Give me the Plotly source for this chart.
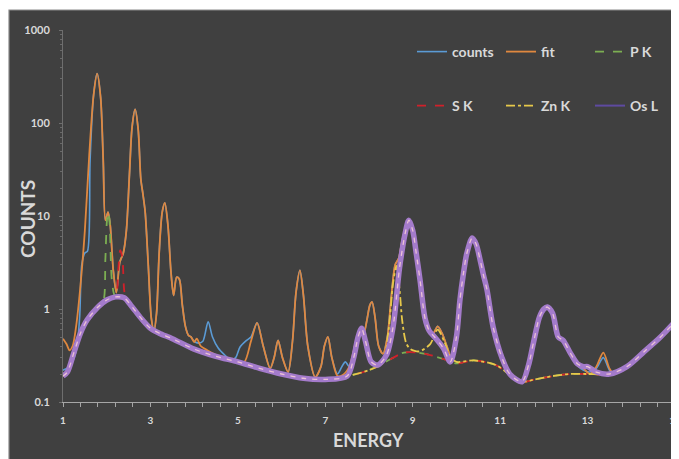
import plotly.graph_objects as go

# ---------------- data ----------------
counts_x = [1.0, 1.15, 1.3, 1.38, 1.43, 1.5, 1.56, 1.62, 1.7, 1.78, 1.86, 1.92, 1.97, 2.03, 2.08, 2.15, 2.22, 2.3, 2.38, 2.45,
            2.52, 2.58, 2.65, 2.72, 2.78, 2.83, 2.88, 2.95, 3.02, 3.08, 3.14, 3.2, 3.27, 3.33, 3.4, 3.47, 3.53, 3.6, 3.66,
            3.73, 3.8, 3.87, 3.93, 4.0, 4.1, 4.2, 4.32, 4.42, 4.55, 4.7, 4.85, 4.95, 5.05, 5.2, 5.3, 5.44, 5.58, 5.74,
            5.83, 5.92, 6.02, 6.15, 6.25, 6.33, 6.42, 6.5, 6.6, 6.77, 6.9, 6.98, 7.06, 7.15, 7.28, 7.38, 7.46, 7.55,
            7.7, 7.8, 7.88, 7.95, 8.02, 8.07, 8.14, 8.22, 8.32, 8.42, 8.5, 8.6, 8.68, 8.76, 8.84, 8.91, 9.0, 9.08, 9.17,
            9.28, 9.38, 9.47, 9.57, 9.67, 9.78, 9.88, 10.0, 10.08, 10.16, 10.24, 10.36, 10.45, 10.54, 10.62, 10.7, 10.84,
            11.04, 11.22, 11.5, 11.65, 11.76, 11.9, 12.0, 12.08, 12.2, 12.33, 12.44, 12.6, 12.76, 12.9, 13.05, 13.2,
            13.36, 13.5, 13.6, 13.9, 14.3, 14.65, 15.0]
counts_y = [0.22, 0.24, 0.35, 0.8, 3.0, 4.0, 4.2, 40, 200, 340, 190, 40, 9, 11, 8, 2.6, 1.5, 3.2, 4.0, 7,
            28, 90, 140, 85, 25, 17, 11, 3, 0.8, 0.58, 0.9, 4, 11, 13.8, 8, 2.5, 1.4, 2.2, 2.1,
            1.1, 0.65, 0.52, 0.5, 0.45, 0.43, 0.45, 0.73, 0.5, 0.38, 0.32, 0.28, 0.3, 0.39, 0.46, 0.5, 0.71, 0.4, 0.23,
            0.3, 0.46, 0.3, 0.21, 0.45, 1.5, 2.6, 1.4, 0.4, 0.185, 0.24, 0.4, 0.5, 0.3, 0.2, 0.24, 0.27, 0.24,
            0.45, 0.6, 0.55, 0.75, 1.1, 1.19, 0.8, 0.4, 0.33, 0.5, 1.2, 3.0, 3.5, 5.5, 7.5, 9.2, 7.2, 4.0, 2.0,
            0.85, 0.6, 0.55, 0.65, 0.55, 0.4, 0.3, 0.5, 1.3, 2.5, 4.1, 5.9, 5.1, 3.5, 2.3, 1.6, 0.64,
            0.3, 0.2, 0.16, 0.24, 0.43, 0.82, 1.0, 1.05, 0.9, 0.5, 0.46, 0.33, 0.25, 0.22, 0.21, 0.23,
            0.3, 0.22, 0.2, 0.24, 0.35, 0.49, 0.73]

fit_x = [1.0, 1.08, 1.15, 1.22, 1.3, 1.4, 1.5, 1.6, 1.7, 1.78, 1.86, 1.92, 1.97, 2.03, 2.08, 2.15, 2.22, 2.3, 2.38, 2.45,
         2.52, 2.58, 2.65, 2.72, 2.78, 2.83, 2.88, 2.95, 3.02, 3.08, 3.14, 3.2, 3.27, 3.33, 3.4, 3.47, 3.53, 3.6, 3.66,
         3.73, 3.8, 3.87, 3.93, 4.0, 4.06, 4.15, 4.3, 4.5, 4.8, 5.0, 5.15, 5.3, 5.44, 5.58, 5.74,
         5.83, 5.92, 6.02, 6.15, 6.25, 6.33, 6.42, 6.5, 6.6, 6.77, 6.9, 6.98, 7.06, 7.15, 7.28, 7.4, 7.55,
         7.7, 7.8, 7.88, 7.95, 8.02, 8.07, 8.14, 8.22, 8.32, 8.42, 8.5, 8.6, 8.68, 8.76, 8.84, 8.91, 9.0, 9.08, 9.17,
         9.28, 9.38, 9.47, 9.57, 9.67, 9.78, 9.88, 10.0, 10.08, 10.16, 10.24, 10.36, 10.45, 10.54, 10.62, 10.7, 10.84,
         11.04, 11.22, 11.5, 11.65, 11.76, 11.9, 12.0, 12.08, 12.2, 12.33, 12.44, 12.6, 12.76, 12.9, 13.05, 13.2,
         13.36, 13.5, 13.6, 13.9, 14.3, 14.65, 15.0]
fit_y = [0.48, 0.42, 0.36, 0.4, 0.65, 1.8, 7, 45, 200, 340, 190, 40, 9, 11, 8, 2.6, 1.5, 3.2, 4.0, 7,
         28, 90, 140, 85, 25, 17, 11, 3, 0.8, 0.58, 0.9, 4, 11, 13.8, 8, 2.5, 1.4, 2.2, 2.1,
         1.1, 0.65, 0.52, 0.5, 0.44, 0.48, 0.4, 0.36, 0.32, 0.28, 0.27, 0.27, 0.45, 0.71, 0.4, 0.23,
         0.3, 0.46, 0.3, 0.21, 0.45, 1.5, 2.6, 1.4, 0.4, 0.185, 0.24, 0.4, 0.5, 0.3, 0.19, 0.195, 0.24,
         0.45, 0.6, 0.55, 0.75, 1.1, 1.19, 0.8, 0.4, 0.33, 0.5, 1.2, 3.0, 3.5, 5.5, 7.5, 9.2, 7.2, 4.0, 2.0,
         0.85, 0.6, 0.55, 0.65, 0.55, 0.4, 0.3, 0.5, 1.3, 2.5, 4.1, 5.9, 5.1, 3.5, 2.3, 1.6, 0.64,
         0.3, 0.2, 0.16, 0.24, 0.43, 0.82, 1.0, 1.05, 0.9, 0.5, 0.46, 0.33, 0.25, 0.23, 0.2, 0.24,
         0.34, 0.23, 0.2, 0.24, 0.35, 0.49, 0.73]

pk_x = [1.0, 1.1, 1.25, 1.4, 1.55, 1.8, 1.92, 1.97, 2.01, 2.04, 2.07, 2.12, 2.2, 2.4, 2.55, 2.8, 3.0, 3.2, 3.5,
        4.0, 4.5, 5.0, 5.5, 6.0, 6.5, 7.0, 7.5, 8.0, 8.5, 8.8, 9.1, 9.4, 9.7, 10.0, 10.4, 10.9, 11.2, 11.5,
        11.8, 12.2, 12.6, 13.0, 13.5, 13.9, 14.3, 14.65, 15.0]
pk_y = [0.19, 0.21, 0.34, 0.55, 0.76, 1.05, 1.2, 3.5, 9.5, 11, 8, 2.0, 1.35, 1.32, 1.1, 0.78, 0.62, 0.55, 0.48,
        0.37, 0.31, 0.27, 0.23, 0.2, 0.18, 0.175, 0.19, 0.22, 0.29, 0.34, 0.34, 0.32, 0.29, 0.26, 0.28, 0.25, 0.2, 0.165,
        0.175, 0.19, 0.2, 0.2, 0.2, 0.24, 0.35, 0.49, 0.73]

sk_x = [1.0, 1.1, 1.25, 1.4, 1.55, 1.8, 2.0, 2.2, 2.26, 2.31, 2.36, 2.42, 2.55, 2.8, 3.0, 3.2, 3.5,
        4.0, 4.5, 5.0, 5.5, 6.0, 6.5, 7.0, 7.5, 8.0, 8.5, 8.8, 9.1, 9.4, 9.7, 10.0, 10.4, 10.9, 11.2, 11.5,
        11.8, 12.2, 12.6, 13.0, 13.5, 13.9, 14.3, 14.65, 15.0]
sk_y = [0.19, 0.21, 0.34, 0.55, 0.76, 1.05, 1.25, 1.35, 2.5, 4.3, 3.5, 1.4, 1.1, 0.78, 0.62, 0.55, 0.48,
        0.37, 0.31, 0.27, 0.23, 0.2, 0.18, 0.175, 0.19, 0.22, 0.29, 0.34, 0.34, 0.32, 0.29, 0.26, 0.28, 0.25, 0.2, 0.165,
        0.175, 0.19, 0.2, 0.2, 0.2, 0.24, 0.35, 0.49, 0.73]

znk_x = [1.0, 1.1, 1.25, 1.4, 1.55, 1.8, 2.0, 2.2, 2.4, 2.55, 2.8, 3.0, 3.2, 3.5,
         4.0, 4.5, 5.0, 5.5, 6.0, 6.5, 7.0, 7.5, 8.0, 8.3, 8.45, 8.55, 8.63, 8.7, 8.76, 8.85, 8.95, 9.15, 9.4, 9.57,
         9.72, 9.87, 10.0, 10.4, 10.9, 11.2, 11.5, 11.8, 12.2, 12.6, 13.0, 13.5, 13.9, 14.3, 14.65, 15.0]
znk_y = [0.19, 0.21, 0.34, 0.55, 0.76, 1.05, 1.25, 1.35, 1.32, 1.1, 0.78, 0.62, 0.55, 0.48,
         0.37, 0.31, 0.27, 0.23, 0.2, 0.18, 0.175, 0.19, 0.22, 0.26, 0.6, 1.9, 2.9, 1.6, 0.75, 0.43, 0.37, 0.35, 0.42, 0.6,
         0.45, 0.3, 0.27, 0.28, 0.25, 0.2, 0.165, 0.175, 0.19, 0.2, 0.2, 0.2, 0.24, 0.35, 0.49, 0.73]

osl_x = [1.0, 1.1, 1.25, 1.4, 1.55, 1.8, 2.0, 2.2, 2.4, 2.55, 2.8, 3.0, 3.2, 3.5,
         4.0, 4.5, 5.0, 5.5, 6.0, 6.5, 7.0, 7.5, 7.65, 7.75, 7.83, 7.92, 8.05, 8.2, 8.4, 8.55, 8.7, 8.83, 8.91,
         9.0, 9.08, 9.17, 9.28, 9.38, 9.5, 9.7, 9.86, 10.0, 10.08, 10.16, 10.24, 10.36, 10.45, 10.54, 10.62, 10.7,
         10.84, 11.04, 11.22, 11.5, 11.65, 11.76, 11.9, 12.0, 12.08, 12.2, 12.33, 12.44, 12.6, 12.76, 12.9, 13.0,
         13.2, 13.5, 13.9, 14.3, 14.65, 15.0]
osl_y = [0.19, 0.21, 0.34, 0.55, 0.76, 1.05, 1.25, 1.35, 1.32, 1.1, 0.78, 0.62, 0.55, 0.48,
         0.37, 0.31, 0.27, 0.23, 0.2, 0.18, 0.175, 0.19, 0.3, 0.5, 0.62, 0.45, 0.27, 0.25, 0.32, 0.64, 2.8, 6.6, 9.0,
         7.0, 4.0, 2.0, 0.8, 0.58, 0.5, 0.38, 0.27, 0.5, 1.25, 2.4, 4.0, 5.8, 5.0, 3.4, 2.3, 1.6,
         0.64, 0.3, 0.2, 0.165, 0.25, 0.43, 0.82, 1.0, 1.05, 0.9, 0.5, 0.46, 0.34, 0.26, 0.24, 0.24,
         0.21, 0.2, 0.24, 0.35, 0.49, 0.73]

x_tickvals = [1, 3, 5, 7, 9, 11, 13, 15]
y_tickvals = [0.1, 1, 10, 100, 1000]
y_ticktext = ["0.1", "1", "10", "100", "1000"]
y_minor_vals = [m * 10.0 ** e for e in range(-1, 3) for m in range(2, 10)]

# ---------------- figure ----------------
# page is drawn with the browser's 8px body margin, so the figure is 8px smaller
OFF = 8
W, H = 679 - OFF, 459 - OFF
L, R, T, B = 55, 4, 22, 57          # plot area: page x 63..675, page y 30..402
PW, PH = W - L - R, H - T - B

def px(xpage):
    return (xpage - OFF - L) / PW

def py(ypage):
    return (H - B - (ypage - OFF)) / PH

TXT = "#d9d9d9"
FONT = "Lato"
spline = dict(shape="spline", smoothing=0.8)

fig = go.Figure()
fig.add_trace(go.Scatter(x=counts_x, y=counts_y, name="counts", mode="lines",
                         line=dict(color="#5b9bd5", width=1.6, **spline), legend="legend"))
fig.add_trace(go.Scatter(x=fit_x, y=fit_y, name="fit", mode="lines",
                         line=dict(color="#e0883f", width=1.8, **spline), legend="legend"))
fig.add_trace(go.Scatter(x=pk_x, y=pk_y, name="P K", mode="lines",
                         line=dict(color="#7cae52", width=1.8, dash="dash", **spline), legend="legend"))
fig.add_trace(go.Scatter(x=sk_x, y=sk_y, name="S K", mode="lines",
                         line=dict(color="#d0202a", width=1.8, dash="dash", **spline), legend="legend2"))
fig.add_trace(go.Scatter(x=znk_x, y=znk_y, name="Zn K", mode="lines",
                         line=dict(color="#e6c84a", width=1.8, dash="dashdot", **spline), legend="legend2"))
fig.add_trace(go.Scatter(x=osl_x, y=osl_y, name="Os L", mode="lines", showlegend=False,
                         line=dict(color="#a47bcb", width=5.5, **spline)))
fig.add_trace(go.Scatter(x=osl_x, y=osl_y, name="Os L", mode="lines", showlegend=False,
                         line=dict(color="#ecc2d6", width=1.3, dash="5px,6px", **spline), hoverinfo="skip"))
# legend entry for Os L (thin line as in the reference legend)
fig.add_trace(go.Scatter(x=[None], y=[None], name="Os L", mode="lines",
                         line=dict(color="#5e4aa0", width=2), legend="legend2"))

legend_common = dict(orientation="h", xanchor="left", yanchor="middle",
                     bgcolor="rgba(0,0,0,0)", font=dict(family=FONT, size=14, color=TXT, weight="bold"),
                     entrywidthmode="pixels", entrywidth=44, itemwidth=30, tracegroupgap=0)

fig.update_layout(
    width=W, height=H,
    margin=dict(l=L, r=R, t=T, b=B, pad=0, autoexpand=False),
    paper_bgcolor="white",
    plot_bgcolor="#404040",
    showlegend=True,
    legend=dict(x=px(412), y=py(52), **legend_common),
    legend2=dict(x=px(412), y=py(106), **legend_common),
    shapes=[dict(type="rect", xref="paper", yref="paper",
                 x0=px(9), x1=px(684), y0=py(470), y1=py(10),
                 fillcolor="#404040", line=dict(color="#8a8a8a", width=1.2), layer="below")],
    xaxis=dict(range=[1, 15], tickmode="array", tickvals=x_tickvals, automargin=False,
               showgrid=False, zeroline=False, showline=True, linecolor="#a6a6a6", linewidth=1,
               ticks="outside", ticklen=4, tickcolor="#a6a6a6", ticklabeloverflow="allow",
               minor=dict(dtick=0.4, tick0=1, ticks="outside", ticklen=4, tickcolor="#a6a6a6", showgrid=False),
               tickfont=dict(family=FONT, size=10, color=TXT, weight="bold"), ticklabelstandoff=5),
    yaxis=dict(type="log", range=[-1, 3], tickmode="array", tickvals=y_tickvals, ticktext=y_ticktext,
               automargin=False,
               showgrid=False, zeroline=False, showline=True, linecolor="#6e6e6e", linewidth=1,
               ticks="outside", ticklen=3, tickcolor="#6e6e6e",
               minor=dict(tickmode="array", tickvals=y_minor_vals, ticks="outside", ticklen=2,
                          tickcolor="#6a6a6a", showgrid=False),
               tickfont=dict(family=FONT, size=11, color=TXT, weight="bold"), ticklabelstandoff=7),
    annotations=[
        dict(text="COUNTS", xref="paper", yref="paper", x=px(27), y=py(219), showarrow=False,
             textangle=-90, font=dict(family=FONT, size=19, color=TXT, weight="bold"),
             xanchor="center", yanchor="middle"),
        dict(text="ENERGY", xref="paper", yref="paper", x=px(368), y=py(440), showarrow=False,
             font=dict(family=FONT, size=18, color=TXT, weight="bold"),
             xanchor="center", yanchor="middle"),
    ],
)

fig.write_html("out.html")
